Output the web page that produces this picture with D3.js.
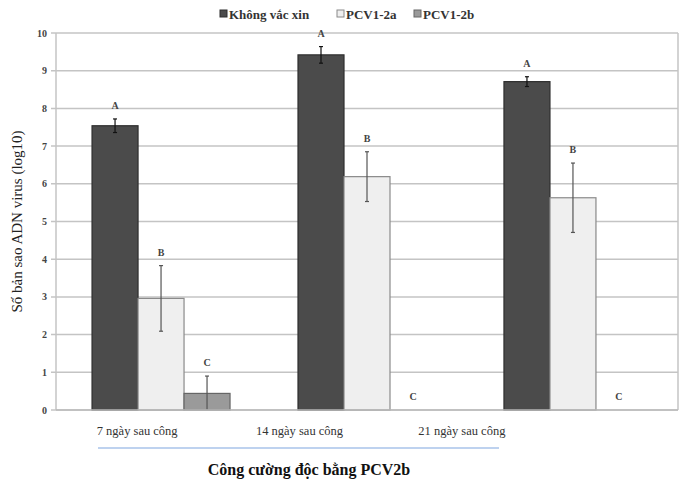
<!DOCTYPE html>
<html>
<head>
<meta charset="utf-8">
<script src="https://cdn.jsdelivr.net/npm/d3@7"></script>
<style>
  body { margin: 0; background: #fff; }
  text { font-family: "Liberation Serif", "DejaVu Serif", serif; }
</style>
</head>
<body>
<svg id="chart"></svg>
<script>
// data
var groups = ["7 ngày sau công", "14 ngày sau công", "21 ngày sau công"];
var series = ["Không vắc xin", "PCV1-2a", "PCV1-2b"];
var khongVacXin = [7.54, 9.42, 8.71];
var pcv12a = [2.96, 6.19, 5.63];
var pcv12b = [0.44, 0, 0];
var errKhong = [0.18, 0.22, 0.13];
var err2a = [0.87, 0.66, 0.92];
var err2b = [0.46, 0, 0];
var letters = [["A", "B", "C"], ["A", "B", "C"], ["A", "B", "C"]];
var yTicks = [0, 1, 2, 3, 4, 5, 6, 7, 8, 9, 10];

var values = [khongVacXin, pcv12a, pcv12b];
var errors = [errKhong, err2a, err2b];
var fills = ["#4b4b4b", "#efefef", "#9a9a9a"];
var strokes = ["#2e2e2e", "#8a8a8a", "#666"];

var W = 680, H = 490;
var svg = d3.select("#chart").attr("width", W).attr("height", H);

var pLeft = 56, pRight = 678, pTop = 33, pBottom = 410;

var x0 = d3.scaleBand().domain(groups).range([pLeft, pRight]).paddingInner(0.33).paddingOuter(0.175);
var x1 = d3.scaleBand().domain(series).range([0, x0.bandwidth()]);
var y = d3.scaleLinear().domain([0, 10]).range([pBottom, pTop]);

// gridlines
svg.append("g").selectAll("line")
    .data(yTicks)
    .enter().append("line")
    .attr("x1", pLeft - 5).attr("x2", pRight)
    .attr("y1", function(d) { return y(d); })
    .attr("y2", function(d) { return y(d); })
    .attr("stroke", "#c4c4c4")
    .attr("stroke-width", 1.5);

// frame
svg.append("line").attr("x1", pLeft).attr("x2", pLeft).attr("y1", pTop).attr("y2", pBottom)
    .attr("stroke", "#c4c4c4").attr("stroke-width", 1.5);
svg.append("line").attr("x1", pRight).attr("x2", pRight).attr("y1", pTop).attr("y2", pBottom)
    .attr("stroke", "#c4c4c4").attr("stroke-width", 1.5);

// y tick labels
svg.append("g").selectAll("text")
    .data(yTicks)
    .enter().append("text")
    .attr("x", pLeft - 9)
    .attr("y", function(d) { return y(d) + 3.5; })
    .attr("text-anchor", "end")
    .attr("font-size", 10)
    .attr("font-weight", "bold")
    .attr("fill", "#444")
    .text(function(d) { return d; });

// bars
var g = svg.append("g").selectAll("g")
    .data(groups)
    .enter().append("g")
    .attr("transform", function(d) { return "translate(" + x0(d) + ",0)"; });

series.forEach(function(s, si) {
  g.append("rect")
    .attr("x", x1(s))
    .attr("width", x1.bandwidth())
    .attr("y", function(d, gi) { return y(values[si][gi]); })
    .attr("height", function(d, gi) { return pBottom - y(values[si][gi]); })
    .attr("fill", fills[si])
    .attr("stroke", strokes[si])
    .attr("stroke-width", function(d, gi) { return values[si][gi] > 0 ? 1.2 : 0; });

  // error bars
  g.each(function(d, gi) {
    var v = values[si][gi], e = errors[si][gi];
    if (v <= 0) return;
    var cx = x1(s) + x1.bandwidth() / 2;
    var sel = d3.select(this);
    var lo = Math.max(0, v - e), hi = v + e;
    var col = si === 0 ? "#111" : "#555";
    sel.append("line").attr("x1", cx).attr("x2", cx)
      .attr("y1", y(lo)).attr("y2", y(hi)).attr("stroke", col).attr("stroke-width", 1.2);
    sel.append("line").attr("x1", cx - 2).attr("x2", cx + 2)
      .attr("y1", y(hi)).attr("y2", y(hi)).attr("stroke", col).attr("stroke-width", 1.2);
    if (v - e > 0) {
      sel.append("line").attr("x1", cx - 2).attr("x2", cx + 2)
        .attr("y1", y(lo)).attr("y2", y(lo)).attr("stroke", col).attr("stroke-width", 1.2);
    }
  });

  // significance letters
  g.append("text")
    .attr("x", x1(s) + x1.bandwidth() / 2)
    .attr("y", function(d, gi) { return y(values[si][gi] + errors[si][gi]) - 10; })
    .attr("text-anchor", "middle")
    .attr("font-size", 10)
    .attr("font-weight", "bold")
    .attr("fill", "#444")
    .text(function(d, gi) { return letters[gi][si]; });
});

// baseline
svg.append("line").attr("x1", pLeft).attr("x2", pRight).attr("y1", pBottom).attr("y2", pBottom)
    .attr("stroke", "#bbb").attr("stroke-width", 1.5);

// category labels (sit offset from the bars in the original)
var xl = d3.scaleBand().domain(groups).range([56, 543]);
svg.append("g").selectAll("text")
    .data(groups)
    .enter().append("text")
    .attr("x", function(d) { return xl(d) + xl.bandwidth() / 2; })
    .attr("y", 435)
    .attr("text-anchor", "middle")
    .attr("font-size", 12.5)
    .attr("fill", "#333")
    .text(function(d) { return d; });

svg.append("line").attr("x1", 98).attr("x2", 499).attr("y1", 448).attr("y2", 448)
    .attr("stroke", "#a9c3ea").attr("stroke-width", 1.5);

svg.append("text")
    .attr("x", 309).attr("y", 475)
    .attr("text-anchor", "middle")
    .attr("font-size", 16)
    .attr("font-weight", "bold")
    .attr("fill", "#111")
    .text("Công cường độc bằng PCV2b");

// y title
svg.append("text")
    .attr("transform", "translate(22," + ((pTop + pBottom) / 2) + ") rotate(-90)")
    .attr("text-anchor", "middle")
    .attr("font-size", 15)
    .attr("fill", "#222")
    .text("Số bản sao ADN virus (log10)");

// legend
var legX = [220, 337, 414];
var leg = svg.append("g").selectAll("g")
    .data(series)
    .enter().append("g")
    .attr("transform", function(d, i) { return "translate(" + legX[i] + ",14)"; });
leg.append("rect")
    .attr("x", 0).attr("y", -4).attr("width", 7).attr("height", 7)
    .attr("fill", function(d, i) { return fills[i]; })
    .attr("stroke", function(d, i) { return strokes[i]; });
leg.append("text")
    .attr("x", 9).attr("y", 4.5)
    .attr("font-size", 13)
    .attr("font-weight", "bold")
    .attr("fill", "#333")
    .text(function(d) { return d; });
</script>
</body>
</html>
